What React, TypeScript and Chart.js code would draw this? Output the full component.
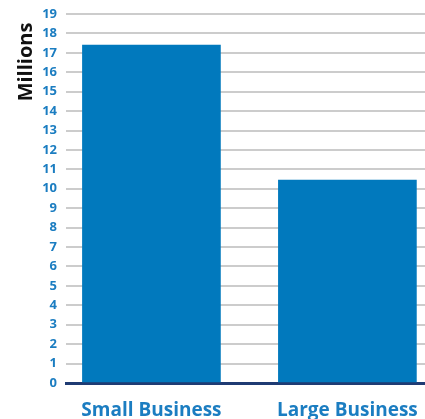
import React, { useEffect, useRef } from "react";
import { Chart, registerables } from "chart.js";
Chart.register(...registerables);

const categories = ["Small Business", "Large Business"];
const values = [17.4, 10.45];
const yMax = 19;
const axisTitle = "Millions";

const BLUE = "#0179bd";
const TICK = "#1b7dc1";

const titlePlugin = {
  id: "sideTitle",
  afterDraw(chart: any) {
    const ctx = chart.ctx;
    ctx.save();
    ctx.translate(26, 62);
    ctx.rotate(-Math.PI / 2);
    ctx.font = "bold 20px 'Open Sans'";
    ctx.fillStyle = "#111";
    ctx.textAlign = "center";
    ctx.textBaseline = "middle";
    ctx.fillText(axisTitle, 0, 0);
    ctx.restore();
  },
};

export default function App() {
  const ref = useRef<HTMLCanvasElement>(null);
  useEffect(() => {
    const chart = new Chart(ref.current!, {
      type: "bar",
      data: {
        datasets: [
          {
            data: values.map((v, i) => ({ x: i, y: v })),
            backgroundColor: BLUE,
            barThickness: 138,
          },
        ],
      },
      options: {
        animation: false,
        responsive: false,
        maintainAspectRatio: false,
        layout: { padding: { top: 14, left: 0, right: 0, bottom: 0 } },
        plugins: { legend: { display: false }, tooltip: { enabled: false } },
        scales: {
          x: {
            type: "linear",
            offset: false,
            min: -0.436,
            max: 1.396,
            grid: { display: false, drawTicks: false, offset: false },
            border: { display: true, color: "#1f3b73", width: 3 },
            afterBuildTicks: (s: any) => {
              s.ticks = categories.map((_, i) => ({ value: i }));
            },
            afterFit: (s: any) => {
              s.height = 36;
              s.paddingLeft = 0;
              s.paddingRight = 0;
            },
            ticks: {
              autoSkip: false,
              maxRotation: 0,
              padding: 16,
              color: TICK,
              font: { family: "'Open Sans'", size: 19, weight: "bold" },
              callback: (v: any) => categories[v] ?? "",
            },
          },
          y: {
            min: 0,
            max: yMax,
            afterFit: (s: any) => {
              s.width = 66;
              s.paddingTop = 0;
              s.paddingBottom = 0;
            },
            border: { display: false },
            grid: { color: "#cccccc", lineWidth: 2, drawTicks: false },
            ticks: {
              stepSize: 1,
              padding: 9,
              color: TICK,
              font: { family: "'Open Sans'", size: 13, weight: "bold" },
            },
          },
        },
      },
      plugins: [titlePlugin],
    } as any);
    return () => chart.destroy();
  }, []);
  return (
    <div style={{ position: "fixed", left: 0, top: 0, width: 425, height: 419, background: "#fff" }}>
      <canvas ref={ref} width={425} height={419} />
    </div>
  );
}
